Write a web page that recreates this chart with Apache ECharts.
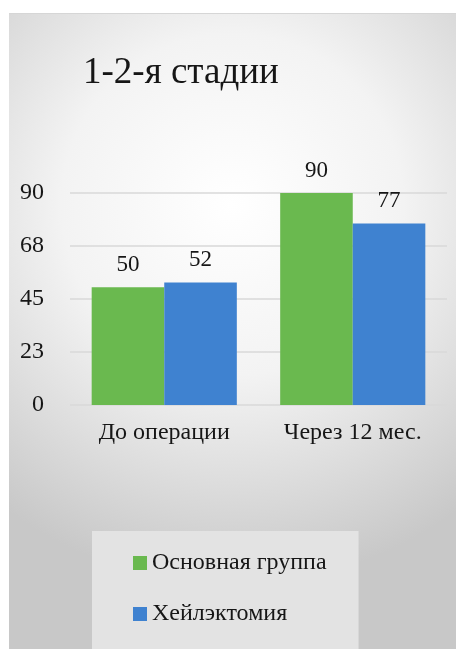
<!DOCTYPE html>
<html>
<head>
<meta charset="utf-8">
<script src="https://cdn.jsdelivr.net/npm/echarts@6/dist/echarts.min.js"></script>
<style>
html,body{margin:0;padding:0;background:#fff;width:456px;height:649px;overflow:hidden;}
#card{position:absolute;left:9px;top:13px;width:447px;height:636px;border-top:1px solid #d6d6d6;box-sizing:border-box;}
#chart{width:100%;height:100%;}
</style>
</head>
<body>
<div id="card"><div id="chart"></div></div>
<script>
const titleText = '1-2-я стадии';
const categories = ['До операции', 'Через 12 мес.'];
const seriesNames = ['Основная группа', 'Хейлэктомия'];
const mainGroup = [50, 90];
const cheilectomy = [52, 77];
const axisMax = 90;
const axisStep = 22.5;

const FONT = "'Liberation Serif', 'Times New Roman', serif";
const chart = echarts.init(document.getElementById('chart'));
chart.setOption({
  backgroundColor: new echarts.graphic.RadialGradient(0.5, 0.3, 0.85, [
    {offset: 0, color: '#ffffff'},
    {offset: 0.45, color: '#f3f3f3'},
    {offset: 1, color: '#c8c8c8'}
  ]),
  animation: false,
  title: {
    text: titleText,
    left: 69,
    top: 36,
    textStyle: {fontFamily: FONT, fontSize: 37, fontWeight: 'normal', color: '#161616'}
  },
  grid: {left: 61, right: 9, top: 179, bottom: 244, containLabel: false},
  xAxis: {
    type: 'category',
    data: categories,
    axisLine: {show: false},
    axisTick: {show: false},
    axisLabel: {fontFamily: FONT, fontSize: 24, color: '#161616', margin: 16}
  },
  yAxis: {
    type: 'value',
    min: 0,
    max: axisMax,
    interval: axisStep,
    axisLine: {show: false},
    axisTick: {show: false},
    splitLine: {lineStyle: {color: '#d9d9d9', width: 1.5}},
    axisLabel: {fontFamily: FONT, fontSize: 24, color: '#161616', margin: 26,
      formatter: v => String(Math.round(v))}
  },
  legend: {
    orient: 'vertical',
    left: 83,
    top: 517,
    backgroundColor: '#e3e3e3',
    padding: [20, 32, 23, 41],
    itemGap: 27,
    itemWidth: 14,
    itemHeight: 14,
    icon: 'rect',
    textStyle: {fontFamily: FONT, fontSize: 24, color: '#161616'},
    data: seriesNames
  },
  series: [
    {name: seriesNames[0], type: 'bar', data: mainGroup, barGap: '0%', barCategoryGap: '23%',
     itemStyle: {color: '#6ab94f'},
     label: {show: true, position: 'top', distance: 11, fontFamily: FONT, fontSize: 23, color: '#161616'}},
    {name: seriesNames[1], type: 'bar', data: cheilectomy, barGap: '0%', barCategoryGap: '23%',
     itemStyle: {color: '#3f82d0'},
     label: {show: true, position: 'top', distance: 11, fontFamily: FONT, fontSize: 23, color: '#161616'}}
  ]
});
</script>
</body>
</html>
